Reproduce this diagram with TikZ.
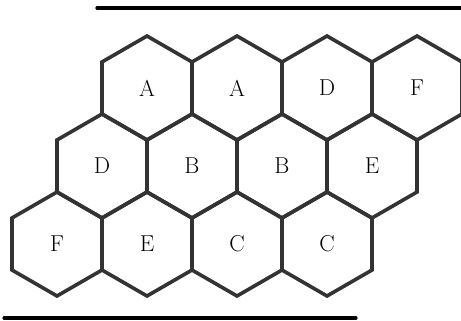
\documentclass[tikz,border=0pt]{standalone}
\usepackage{tikz}
\usetikzlibrary{shapes.geometric}

\begin{document}
\begin{tikzpicture}[
  x=1pt, y=-1pt,
  cell/.style={draw=black!80, line width=3.6pt, regular polygon,
    regular polygon sides=6, shape border rotate=30, minimum size=104pt,
    inner sep=0pt, font=\fontsize{23}{23}\selectfont},
  rule/.style={draw, line width=3.2pt, line cap=round}
]
\useasboundingbox (0,0) rectangle (461,321);

% Top row
\node[cell] (t1) at (147,88) {A};
\node[cell] (t2) at (237,88) {A};
\node[cell] (t3) at (327,88) {D};
\node[cell] (t4) at (417,88) {F};

% Middle row
\node[cell] (m1) at (102,166) {D};
\node[cell] (m2) at (192,166) {B};
\node[cell] (m3) at (282,166) {B};
\node[cell] (m4) at (372,166) {E};

% Bottom row
\node[cell] (b1) at (57,244) {F};
\node[cell] (b2) at (147,244) {E};
\node[cell] (b3) at (237,244) {C};
\node[cell] (b4) at (327,244) {C};

% Rules above and below
\coordinate (topL) at (97,8);
\coordinate (topR) at (465,8);
\coordinate (botL) at (4,318);
\coordinate (botR) at (356,318);
\draw[rule] (topL) -- (topR);
\draw[rule] (botL) -- (botR);
\end{tikzpicture}
\end{document}
